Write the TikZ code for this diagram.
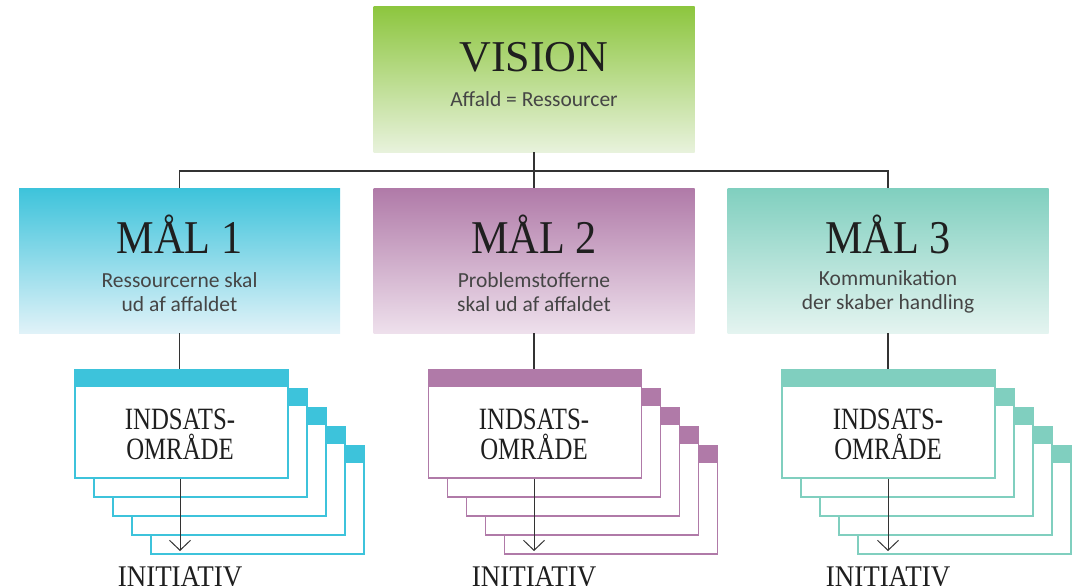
\documentclass[tikz,border=0pt]{standalone}
\usepackage{fontspec}
\setmainfont{Liberation Serif}
\newfontfamily\midserif[FakeStretch=0.9]{Liberation Serif}
\newfontfamily\narrowserif[FakeStretch=0.8]{Liberation Serif}
\newfontfamily\boxsans{Carlito}
\usetikzlibrary{arrows.meta}

\definecolor{visgreen}{HTML}{8DC63F}
\definecolor{visgreenlight}{HTML}{E8F2DC}
\definecolor{malblue}{HTML}{3DC3DB}
\definecolor{malbluelight}{HTML}{E0F2F8}
\definecolor{malpurple}{HTML}{B07AA8}
\definecolor{malpurplelight}{HTML}{EEE0EC}
\definecolor{malteal}{HTML}{80CFBF}
\definecolor{maltreallight}{HTML}{E4F4F0}
\definecolor{txtgray}{HTML}{454545}

\tikzset{
  box/.style 2 args={rectangle,minimum width=321pt,minimum height=145pt,inner sep=0pt,top color=#1,bottom color=#2},
  card/.style={rectangle,draw=#1,fill=white,line width=1.2pt,minimum width=213pt,minimum height=108pt,inner sep=0pt,
    path picture={\fill[#1] (path picture bounding box.north west) rectangle ([yshift=-17pt]path picture bounding box.north east);}},
  heading/.style={anchor=base,inner sep=0pt,text=black!88,font=\fontsize{44}{46}\selectfont},
  goal/.style={anchor=base,inner sep=0pt,text=black!88,font=\midserif\fontsize{47}{49}\selectfont},
  sub/.style={inner sep=0pt,text=txtgray,align=center,font=\boxsans\fontsize{21.5}{24}\selectfont},
  area/.style={inner sep=0pt,text=black!88,align=center,font=\narrowserif\fontsize{31}{30}\selectfont},
  result/.style={anchor=north,inner sep=0pt,text=black!88,font=\midserif\fontsize{30}{32}\selectfont},
  link/.style={draw=black!80,line width=1.3pt},
  down/.style={draw=black!80,line width=1pt,-{Straight Barb[length=10pt,width=21pt]},shorten >=15pt}
}

\begin{document}
\begin{tikzpicture}[x=1pt,y=-1pt]
	\useasboundingbox (0,0) rectangle (1073,586);
	% vision and goals
	\draw (534,79.5) node [box={visgreen}{visgreenlight}] (vision) {};
	\draw (534,71) node [heading] (visiontitle) {VISION};
	\draw (534,99) node [sub] (visionsub) {Affald = Ressourcer};
	\draw (179.5,260.5) node [box={malblue}{malbluelight}] (mal1) {};
	\draw (179.5,253) node [goal] (mal1title) {MÅL 1};
	\draw (179.5,292) node [sub] (mal1sub) {Ressourcerne skal\\ud af affaldet};
	\draw (534,260.5) node [box={malpurple}{malpurplelight}] (mal2) {};
	\draw (534,253) node [goal] (mal2title) {MÅL 2};
	\draw (534,292) node [sub] (mal2sub) {Problemstofferne\\skal ud af affaldet};
	\draw (888,260.5) node [box={malteal}{maltreallight}] (mal3) {};
	\draw (888,253) node [goal] (mal3title) {MÅL 3};
	\draw (888,292) node [sub] (mal3sub) {Kommunikation\\der skaber handling};
	\coordinate (bar) at (534,171);
	\draw [link] (vision.south) -- (mal2.north);
	\draw [link] (mal1.north) |- (bar) -| (mal3.north);
	% stacks of cards
	\foreach \k in {4,3,2,1} {
		\draw (181.5+19*\k,424+19*\k) node [card=malblue] (bluecard\k) {};
		\draw (535+19*\k,424+19*\k) node [card=malpurple] (purplecard\k) {};
		\draw (888.5+19*\k,424+19*\k) node [card=malteal] (tealcard\k) {};
	}
	\draw (181.5,424) node [card=malblue] (ind1) {};
	\draw (180,434) node [area] (ind1text) {INDSATS-\\OMRÅDE};
	\draw (535,424) node [card=malpurple] (ind2) {};
	\draw (534,434) node [area] (ind2text) {INDSATS-\\OMRÅDE};
	\draw (888.5,424) node [card=malteal] (ind3) {};
	\draw (888,434) node [area] (ind3text) {INDSATS-\\OMRÅDE};
	\draw (180,566) node [result] (init1) {INITIATIV};
	\draw (534,566) node [result] (init2) {INITIATIV};
	\draw (888,566) node [result] (init3) {INITIATIV};
	\draw [link] (mal1.south) -- (mal1.south |- ind1.north);
	\draw [link] (mal2.south) -- (mal2.south |- ind2.north);
	\draw [link] (mal3.south) -- (mal3.south |- ind3.north);
	\draw [down] (ind1.south -| init1) -- (init1);
	\draw [down] (ind2.south -| init2) -- (init2);
	\draw [down] (ind3.south -| init3) -- (init3);
\end{tikzpicture}
\end{document}
